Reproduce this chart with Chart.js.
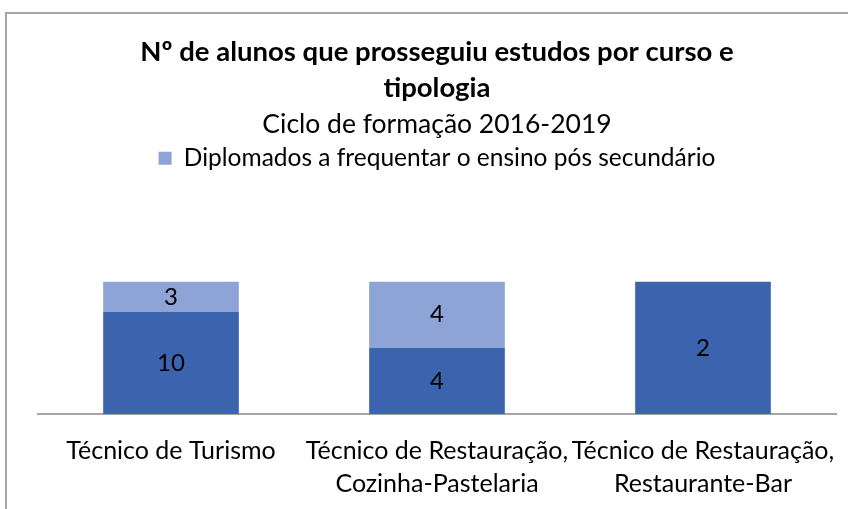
<!DOCTYPE html>
<html>
<head>
<meta charset="utf-8">
<script src="https://cdn.jsdelivr.net/npm/chart.js@4"></script>
<style>
    html, body { margin: 0; padding: 0; background: #fff; }
    #wrap { position: relative; width: 848px; height: 509px; }
    #frame { position: absolute; left: 5px; top: 12px; width: 900px; height: 600px; border-top: 2px solid #A6A6A6; border-left: 2px solid #A6A6A6; }
    canvas { position: absolute; left: 0; top: 0; }
</style>
</head>
<body>
<div id="wrap">
    <div id="frame"></div>
    <canvas id="chart" width="848" height="509"></canvas>
</div>
<script>
const cursos = [
    ["Técnico de Turismo"],
    ["Técnico de Restauração,", "Cozinha-Pastelaria"],
    ["Técnico de Restauração,", "Restaurante-Bar"]
];

const diplomadosSuperior = [10, 4, 2];
const diplomadosPosSecundario = [3, 4, 0];

const totais = cursos.map((c, i) => diplomadosSuperior[i] + diplomadosPosSecundario[i]);

function percent(values) {
    return values.map((v, i) => totais[i] ? v / totais[i] * 100 : 0);
}

const fonte = "Lato";

// empurra a area do grafico para baixo da legenda
const legendGap = {
    id: "legendGap",
    beforeInit(chart) {
        const fit = chart.legend.fit;
        chart.legend.fit = function () {
            fit.bind(chart.legend)();
            this.height += 101;
        };
    }
};

// rotulos de valor no centro de cada segmento
const valueLabels = {
    id: "valueLabels",
    afterDatasetsDraw(chart) {
        const ctx = chart.ctx;
        ctx.save();
        ctx.font = "24px " + fonte;
        ctx.fillStyle = "#000";
        ctx.textAlign = "center";
        ctx.textBaseline = "middle";
        chart.data.datasets.forEach((ds, di) => {
            chart.getDatasetMeta(di).data.forEach((bar, i) => {
                const raw = ds.raw[i];
                if (!raw) return;
                ctx.fillText(raw, bar.x, (bar.y + bar.base) / 2);
            });
        });
        ctx.restore();
    }
};

new Chart(document.getElementById("chart"), {
    type: "bar",
    data: {
        labels: cursos,
        datasets: [{
            label: "Diplomados a frequentar o ensino superior",
            data: percent(diplomadosSuperior),
            raw: diplomadosSuperior,
            backgroundColor: "#3C64AE"
        }, {
            label: "Diplomados a frequentar o ensino pós secundário",
            data: percent(diplomadosPosSecundario),
            raw: diplomadosPosSecundario,
            backgroundColor: "#8FA4D6"
        }]
    },
    options: {
        responsive: false,
        animation: false,
        layout: { padding: { left: 38, right: 12, bottom: 9 } },
        datasets: {
            bar: { categoryPercentage: 0.51, barPercentage: 1 }
        },
        plugins: {
            title: {
                display: true,
                text: ["Nº de alunos que prosseguiu estudos por curso e", "tipologia"],
                color: "#000",
                font: { family: fonte, size: 27.5, weight: "bold", lineHeight: 1.31 },
                padding: { top: 34, bottom: 0 }
            },
            subtitle: {
                display: true,
                text: "Ciclo de formação 2016-2019",
                color: "#000",
                font: { family: fonte, size: 26.5, lineHeight: 1 },
                padding: { top: 5.5, bottom: 0 }
            },
            legend: {
                position: "top",
                labels: {
                    color: "#000",
                    font: { family: fonte, size: 24.5 },
                    boxWidth: 13,
                    boxHeight: 13,
                    padding: 8,
                    filter: item => item.datasetIndex === 1
                }
            },
            tooltip: { enabled: false }
        },
        scales: {
            x: {
                stacked: true,
                grid: { display: false, drawTicks: true, tickLength: 20 },
                border: { color: "#A6A6A6", width: 2 },
                ticks: {
                    color: "#000",
                    font: { family: fonte, size: 25, lineHeight: 1.32 },
                    padding: 0,
                    maxRotation: 0,
                    autoSkip: false
                }
            },
            y: {
                stacked: true,
                display: false,
                min: 0,
                max: 100
            }
        }
    },
    plugins: [legendGap, valueLabels]
});
</script>
</body>
</html>
